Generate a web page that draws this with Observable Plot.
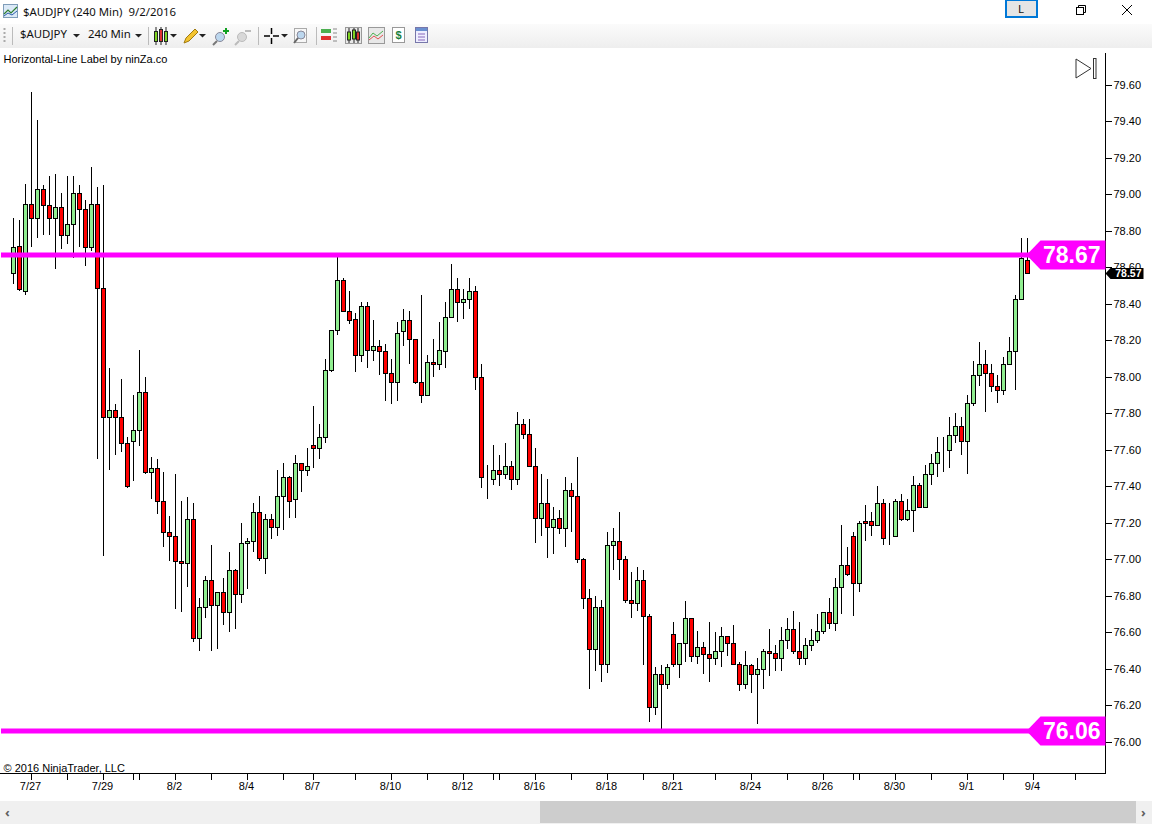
<!DOCTYPE html>
<html><head><meta charset="utf-8">
<script src="https://cdn.jsdelivr.net/npm/d3@7"></script>
<script src="https://cdn.jsdelivr.net/npm/@observablehq/plot@0.6"></script>
<style>
html,body{margin:0;padding:0;background:#fff;overflow:hidden;width:1152px;height:824px;font-family:"Noto Sans",sans-serif;color:#111}
#top{position:relative;height:48px;width:1152px;overflow:hidden}
#tool{position:absolute;left:0;top:24px;width:1152px;height:24px;background:linear-gradient(#fbfbfb,#eeeeee)}
.t{position:absolute;font-size:11.4px;white-space:nowrap;line-height:16px}
#top svg.i{position:absolute}
#chart{position:relative;height:753px;width:1152px}
#chart svg.plot{display:block}
#skip{position:absolute;left:1074px;top:9px}
#scroll{position:relative;height:23px;width:1152px;background:#f0f0f0}
#thumb{position:absolute;left:540px;top:0;width:596px;height:22px;background:#cdcdcd}
.arrow{position:absolute;top:3px;font-size:13px;font-weight:bold;color:#606060;line-height:16px}
</style></head>
<body>
<div id="top">
  <svg class="i" style="left:3px;top:4px" width="16" height="15"><rect x="0.5" y="0.5" width="14" height="13" fill="#dbe9f7" stroke="#7f9db9"/><path d="M1 10 L5 6 L8 9 L14 3" stroke="#2e7d32" stroke-width="1.2" fill="none"/><path d="M1 12 L5 9 L9 11 L14 7" stroke="#2a5caa" fill="none"/></svg>
  <span class="t" style="left:23px;top:4px">$AUDJPY (240 Min)&nbsp; 9/2/2016</span>
  <svg class="i" style="left:1005px;top:-1px" width="34" height="20"><rect x="1" y="1" width="31" height="17" fill="#e5e5e5" stroke="#0078d7" stroke-width="2"/></svg>
  <span class="t" style="left:1018px;top:1px">L</span>
  <svg class="i" style="left:1075px;top:4px" width="12" height="12"><rect x="1.5" y="3.5" width="7" height="7" fill="#fff" stroke="#000"/><path d="M3.5 3.5V1.5H10.5V8.5H8.5" fill="none" stroke="#000"/></svg>
  <svg class="i" style="left:1121px;top:4px" width="12" height="12"><path d="M1 1L11 11M11 1L1 11" stroke="#000"/></svg>
  <div id="tool">
    <svg class="i" style="left:3px;top:3px" width="4" height="16"><path d="M1.5 1V15" stroke="#aaa" stroke-dasharray="2 2" stroke-width="2"/></svg>
    <svg class="i" style="left:12px;top:3px" width="2" height="18"><path d="M.5 0V18" stroke="#bbb"/></svg>
    <span class="t" style="left:20px;top:2px">$AUDJPY</span>
    <svg class="i" style="left:73px;top:9px" width="8" height="6"><path d="M0 1H7L3.5 4.500Z" fill="#222"/></svg>
    <span class="t" style="left:88px;top:2px">240 Min</span>
    <svg class="i" style="left:135px;top:9px" width="8" height="6"><path d="M0 1H7L3.5 4.500Z" fill="#222"/></svg>
    <svg class="i" style="left:148px;top:3px" width="2" height="18"><path d="M.5 0V18" stroke="#bbb"/></svg>
    <svg class="i" style="left:153px;top:3px" width="16" height="18"><g stroke="#222"><path d="M3 0V18M8 0V18M13 0V18"/><rect x="1.500" y="4.500" width="3" height="10" fill="#7ed321"/><rect x="6.500" y="2.500" width="3" height="12" fill="#e03030"/><rect x="11.500" y="4.500" width="3" height="10" fill="#7ed321"/></g></svg>
    <svg class="i" style="left:170px;top:9px" width="8" height="6"><path d="M0 1H7L3.5 4.500Z" fill="#222"/></svg>
    <svg class="i" style="left:183px;top:3px" width="16" height="18"><path d="M1 16L3 11L12 2L15 5L6 14Z" fill="#f4c430" stroke="#a07a10"/></svg>
    <svg class="i" style="left:199px;top:9px" width="8" height="6"><path d="M0 1H7L3.500 4.500Z" fill="#222"/></svg>
    <svg class="i" style="left:212px;top:2px" width="18" height="20"><circle cx="8" cy="11" r="4.500" fill="#bcd7ee" stroke="#889"/><path d="M5 15L1 19" stroke="#777" stroke-width="2"/><path d="M14 2V8M11 5H17" stroke="#10a020" stroke-width="2"/></svg>
    <svg class="i" style="left:234px;top:2px" width="18" height="20"><circle cx="8" cy="11" r="4.500" fill="#d8d8d8" stroke="#bbb"/><path d="M5 15L1 19" stroke="#bbb" stroke-width="2"/><path d="M11 5H17" stroke="#bbb" stroke-width="2"/></svg>
    <svg class="i" style="left:258px;top:3px" width="2" height="18"><path d="M.5 0V18" stroke="#bbb"/></svg>
    <svg class="i" style="left:264px;top:3px" width="16" height="18"><path d="M7.500 1V7M7.500 11V17M0 9H6M9 9H15" stroke="#000" stroke-width="1.500"/></svg>
    <svg class="i" style="left:281px;top:9px" width="8" height="6"><path d="M0 1H7L3.500 4.500Z" fill="#222"/></svg>
    <svg class="i" style="left:293px;top:3px" width="15" height="18"><rect x="1.500" y="1.500" width="12" height="14" fill="#f7f7f7" stroke="#aaa"/><circle cx="8" cy="8" r="4" fill="#bcd7ee" stroke="#889"/><path d="M5 11L1 16" stroke="#666" stroke-width="2"/></svg>
    <svg class="i" style="left:316px;top:3px" width="2" height="18"><path d="M.5 0V18" stroke="#bbb"/></svg>
    <svg class="i" style="left:321px;top:3px" width="17" height="18"><rect x="0" y="2" width="10" height="4" fill="#4caf50"/><rect x="0" y="9" width="10" height="4" fill="#e03030"/><path d="M12 2H16M12 6H16M12 10H16M12 14H16" stroke="#888"/></svg>
    <svg class="i" style="left:345px;top:3px" width="17" height="17"><rect x=".5" y=".5" width="16" height="16" fill="#e8e8e8" stroke="#999"/><g stroke="#222"><path d="M4 1V16M9 1V16M13 1V16"/><rect x="2.500" y="5" width="3" height="8" fill="#7ed321"/><rect x="7.500" y="3" width="3" height="9" fill="#7ed321"/><rect x="11.500" y="5" width="3" height="8" fill="#e03030"/></g></svg>
    <svg class="i" style="left:368px;top:3px" width="17" height="17"><rect x=".5" y=".5" width="16" height="16" fill="#e8e8e8" stroke="#999"/><path d="M1 11L5 6L9 9L15 4" stroke="#4caf50" fill="none"/><path d="M1 13L6 9L10 12L15 8" stroke="#e05050" fill="none"/></svg>
    <svg class="i" style="left:392px;top:3px" width="14" height="17"><rect x=".5" y=".5" width="12" height="15" fill="#fff" stroke="#999"/><text x="6.500" y="12" text-anchor="middle" font-size="11" font-weight="bold" fill="#1a7f3c" font-family="Liberation Sans">$</text></svg>
    <svg class="i" style="left:415px;top:3px" width="14" height="17"><rect x=".5" y=".5" width="12" height="15" fill="#eef" stroke="#77a"/><rect x="1" y="1" width="11" height="3" fill="#6a8fd0"/><path d="M3 7H10M3 10H10M3 13H10" stroke="#86b"/></svg>
  </div>
</div>
<div id="chart"></div>
<div id="scroll"><span class="arrow" style="left:5px">‹</span><div id="thumb"></div><span class="arrow" style="left:1141px">›</span></div>
<script>
const opens = [78.57,78.72,78.47,78.95,78.87,79.03,78.94,78.87,78.93,78.78,
78.84,79.01,78.92,78.71,78.95,78.49,77.78,77.82,77.78,77.64,
77.65,77.71,77.92,77.48,77.50,77.32,77.15,77.13,76.99,76.98,
77.22,76.57,76.74,76.89,76.75,76.82,76.71,76.94,76.81,77.09,
77.10,77.26,77.01,77.22,77.18,77.35,77.45,77.33,77.53,77.49,
77.63,77.61,77.67,78.04,78.26,78.53,78.36,78.32,78.12,78.39,
78.15,78.17,78.14,78.02,77.97,78.25,78.31,78.21,77.97,77.90,
78.08,78.07,78.14,78.33,78.48,78.41,78.43,78.47,78.00,77.45,
77.44,77.49,77.47,77.51,77.44,77.74,77.69,77.51,77.23,77.31,
77.18,77.23,77.17,77.38,77.35,77.00,76.79,76.51,76.74,76.43,
77.08,77.10,77.00,76.78,76.76,76.89,76.69,76.19,76.37,76.32,
76.59,76.43,76.54,76.68,76.47,76.52,76.48,76.46,76.50,76.58,
76.54,76.43,76.32,76.42,76.37,76.40,76.50,76.49,76.46,76.56,
76.62,76.50,76.46,76.53,76.56,76.61,76.71,76.65,76.85,76.97,
77.13,76.87,77.21,77.21,77.19,77.31,77.13,77.13,77.32,77.22,
77.27,77.41,77.29,77.47,77.53,77.59,77.60,77.68,77.73,77.65,
77.86,78.01,78.07,78.02,77.95,77.93,78.07,78.14,78.43,78.64];
const closes = [78.71,78.48,78.95,78.87,79.03,78.94,78.87,78.93,78.78,78.84,
79.01,78.92,78.71,78.95,78.49,77.78,77.82,77.78,77.64,77.40,
77.71,77.92,77.48,77.50,77.32,77.15,77.13,76.99,76.98,77.22,
76.57,76.74,76.89,76.75,76.82,76.71,76.94,76.81,77.09,77.10,
77.26,77.01,77.22,77.18,77.35,77.45,77.32,77.53,77.49,77.51,
77.61,77.67,78.04,78.26,78.53,78.36,78.31,78.12,78.39,78.15,
78.17,78.14,78.02,77.97,78.24,78.31,78.21,77.97,77.90,78.08,
78.07,78.15,78.33,78.48,78.41,78.43,78.47,78.00,77.45,77.45,
77.49,77.47,77.51,77.44,77.74,77.69,77.51,77.23,77.31,77.18,
77.22,77.17,77.38,77.35,77.00,76.79,76.51,76.74,76.43,77.08,
77.10,77.00,76.78,76.76,76.89,76.69,76.19,76.37,76.32,76.41,
76.43,76.54,76.68,76.47,76.52,76.48,76.46,76.50,76.58,76.54,
76.43,76.32,76.42,76.37,76.40,76.50,76.49,76.46,76.56,76.62,
76.50,76.46,76.53,76.56,76.61,76.71,76.65,76.85,76.97,76.92,
76.87,77.20,77.20,77.19,77.31,77.12,77.13,77.32,77.22,77.27,
77.41,77.29,77.47,77.53,77.59,77.59,77.68,77.73,77.65,77.86,
78.01,78.07,78.02,77.95,77.93,78.07,78.14,78.43,78.65,78.57];
const highs = [78.87,78.86,79.06,79.56,79.41,79.05,79.10,79.11,79.01,79.10,
79.10,79.05,78.97,79.15,79.04,79.05,78.05,77.85,77.99,77.67,
77.90,78.15,78.00,77.56,77.55,77.48,77.24,77.47,77.32,77.34,
77.31,76.79,76.91,77.08,76.82,76.90,77.04,76.95,77.20,77.12,
77.31,77.35,77.25,77.25,77.49,77.53,77.46,77.57,77.53,77.61,
77.84,77.74,78.10,78.26,78.66,78.54,78.47,78.35,78.41,78.41,
78.31,78.20,78.18,78.10,78.30,78.37,78.36,78.21,78.45,78.12,
78.21,78.30,78.41,78.62,78.54,78.48,78.54,78.50,78.07,77.52,
77.63,77.57,77.64,77.54,77.81,77.77,77.77,77.61,77.47,77.44,
77.29,77.27,77.45,77.42,77.56,77.01,76.84,76.80,76.78,77.15,
77.17,77.26,77.02,76.93,76.96,76.94,76.70,76.41,76.42,76.43,
76.66,76.54,76.77,76.68,76.61,76.55,76.66,76.60,76.63,76.58,
76.64,76.44,76.50,76.43,76.46,76.51,76.62,76.53,76.63,76.68,
76.72,76.66,76.57,76.62,76.70,76.71,76.79,76.90,77.19,77.07,
77.15,77.21,77.30,77.26,77.40,77.33,77.31,77.33,77.36,77.33,
77.46,77.42,77.52,77.58,77.67,77.67,77.78,77.80,77.78,77.90,
78.09,78.19,78.15,78.07,78.01,78.11,78.22,78.45,78.76,78.76];
const lows = [78.51,78.47,78.45,78.71,78.76,78.78,78.78,78.59,78.70,78.73,
78.65,78.71,78.61,78.69,77.55,77.02,77.49,77.57,77.59,77.39,
77.43,77.62,77.47,77.33,77.25,77.07,76.99,76.73,76.71,76.85,
76.55,76.50,76.68,76.50,76.51,76.64,76.60,76.62,76.76,76.84,
77.04,76.99,76.92,77.11,77.13,77.16,77.23,77.23,77.37,77.46,
77.50,77.55,77.64,78.03,78.23,78.36,78.29,78.03,78.08,78.05,
78.09,78.01,77.87,77.85,77.87,78.17,78.07,77.96,77.86,77.90,
78.00,78.04,78.05,78.33,78.30,78.32,78.37,77.93,77.39,77.33,
77.41,77.40,77.44,77.38,77.41,77.66,77.51,77.09,77.13,77.01,
77.03,77.14,77.07,77.15,76.98,76.73,76.29,76.39,76.33,76.38,
76.94,76.89,76.76,76.68,76.72,76.42,76.11,76.15,76.07,76.29,
76.41,76.35,76.44,76.44,76.43,76.37,76.33,76.42,76.41,76.47,
76.42,76.28,76.29,76.27,76.10,76.29,76.36,76.39,76.39,76.51,
76.48,76.42,76.42,76.50,76.54,76.59,76.62,76.61,76.70,76.91,
76.69,76.82,77.10,77.13,77.19,77.08,77.08,77.13,77.21,77.21,
77.15,77.28,77.28,77.41,77.45,77.48,77.50,77.64,77.57,77.47,
77.84,77.95,77.81,77.92,77.86,77.90,78.07,77.93,78.43,78.57];
const xTickBars = [3,9,15,20,21,27,33,39,45,50,57,63,69,75,80,81,87,93,99,105,110,117,123,129,135,140,141,147,153,159,165,170,177];
const xLabelBars = [3,15,27,39,50,63,75,87,99,110,123,135,147,159,170];
const xLabels = ["7/27","7/29","8/2","8/4","8/7","8/10","8/12","8/16","8/18","8/21","8/24","8/26","8/30","9/1","9/4"];
const yTicks = [76.0,76.2,76.4,76.6,76.8,77.0,77.2,77.4,77.6,77.8,78.0,78.2,78.4,78.6,78.8,79.0,79.2,79.4,79.6];
const levels = [78.67,76.06];
const lastPrice = [78.57];
const indicatorName = ["Horizontal-Line Label by ninZa.co"];
const copyright = ["© 2016 NinjaTrader, LLC"];

const bars = opens.map((o,i)=>({i,o,h:highs[i],l:lows[i],c:closes[i]}));
const labelFor = new Map(xLabelBars.map((b,k)=>[b,xLabels[k]]));
const flag = {draw(c){c.moveTo(0,-14.5);c.lineTo(-65,-14.5);c.lineTo(-79,0);c.lineTo(-65,14.5);c.lineTo(0,14.5);c.closePath();}};
const tag = {draw(c){c.moveTo(0,0);c.lineTo(5,-5.5);c.lineTo(38,-5.5);c.lineTo(38,5.5);c.lineTo(5,5.5);c.closePath();}};
const barHalf = 1/3;

const chart = Plot.plot({
  width:1152, height:753,
  marginLeft:0, marginRight:47, marginTop:5, marginBottom:28,
  style:{background:"#fff",color:"#000",fontFamily:"'Liberation Sans',Arial,sans-serif",fontSize:"11px",overflow:"visible"},
  x:{type:"linear",domain:[-13/6,182],range:[0,1105],label:null,axis:null},
  y:{type:"linear",domain:[75.8301,79.7753],range:[725,5],round:true,label:null,axis:null},
  marks:[
    Plot.ruleX(bars,{x:"i",y1:"l",y2:"h",stroke:"#000",strokeWidth:1}),
    Plot.rect(bars,{x1:d=>d.i-barHalf,x2:d=>d.i+barHalf,y1:d=>Math.min(d.o,d.c),y2:d=>Math.max(d.o,d.c),dx:0.5,dy:0.5,
      fill:d=>d.c>d.o?"#90ee90":d.c<d.o?"#ff0000":"#000",stroke:"#000",strokeWidth:1}),
    Plot.ruleY(levels,{y:d=>d,stroke:"#ff00ff",strokeWidth:5,insetLeft:1,dy:-0.5}),
    Plot.frame({anchor:"right",stroke:"#000"}),
    Plot.frame({anchor:"bottom",stroke:"#000"}),
    Plot.axisX({ticks:xTickBars,tickFormat:()=>"",tickSize:7,label:null}),
    Plot.axisX({ticks:xLabelBars,tickFormat:d=>labelFor.get(d)||"",tickSize:0,tickPadding:9,label:null,fontSize:11,textAnchor:"middle",dx:-1}),
    Plot.axisY({anchor:"right",ticks:yTicks,tickFormat:d=>d.toFixed(2),tickSize:6,tickPadding:2,label:null,fontSize:11}),
    Plot.dot(levels,{y:d=>d,frameAnchor:"right",symbol:flag,fill:"#ff00ff",stroke:"none",dy:-0.5}),
    Plot.text(levels,{y:d=>d,text:d=>d.toFixed(2),frameAnchor:"right",textAnchor:"end",dx:-5,fill:"#fff",fontWeight:"bold",fontSize:23}),
    Plot.dot(lastPrice,{y:d=>d,frameAnchor:"right",symbol:tag,fill:"#000",stroke:"none"}),
    Plot.text(lastPrice,{y:d=>d,text:d=>d.toFixed(2),frameAnchor:"right",textAnchor:"end",dx:36,fill:"#fff",fontWeight:"bold",fontSize:10.5}),
    Plot.text(indicatorName,{frameAnchor:"top-left",dx:3,dy:2,lineAnchor:"top",fontSize:11,fill:"#000"}),
    Plot.text(copyright,{frameAnchor:"bottom-left",dx:3,dy:-2,lineAnchor:"bottom",fontSize:11,fill:"#000"})
  ]
});
document.getElementById("chart").appendChild(chart);
document.getElementById("chart").insertAdjacentHTML("beforeend",'<svg id="skip" width="24" height="24"><path d="M2 2L17 11.500L2 21Z" fill="#fff" stroke="#333"/><rect x="19.500" y="1.500" width="2.500" height="20" fill="#fff" stroke="#333"/></svg>');
</script>
</body></html>
